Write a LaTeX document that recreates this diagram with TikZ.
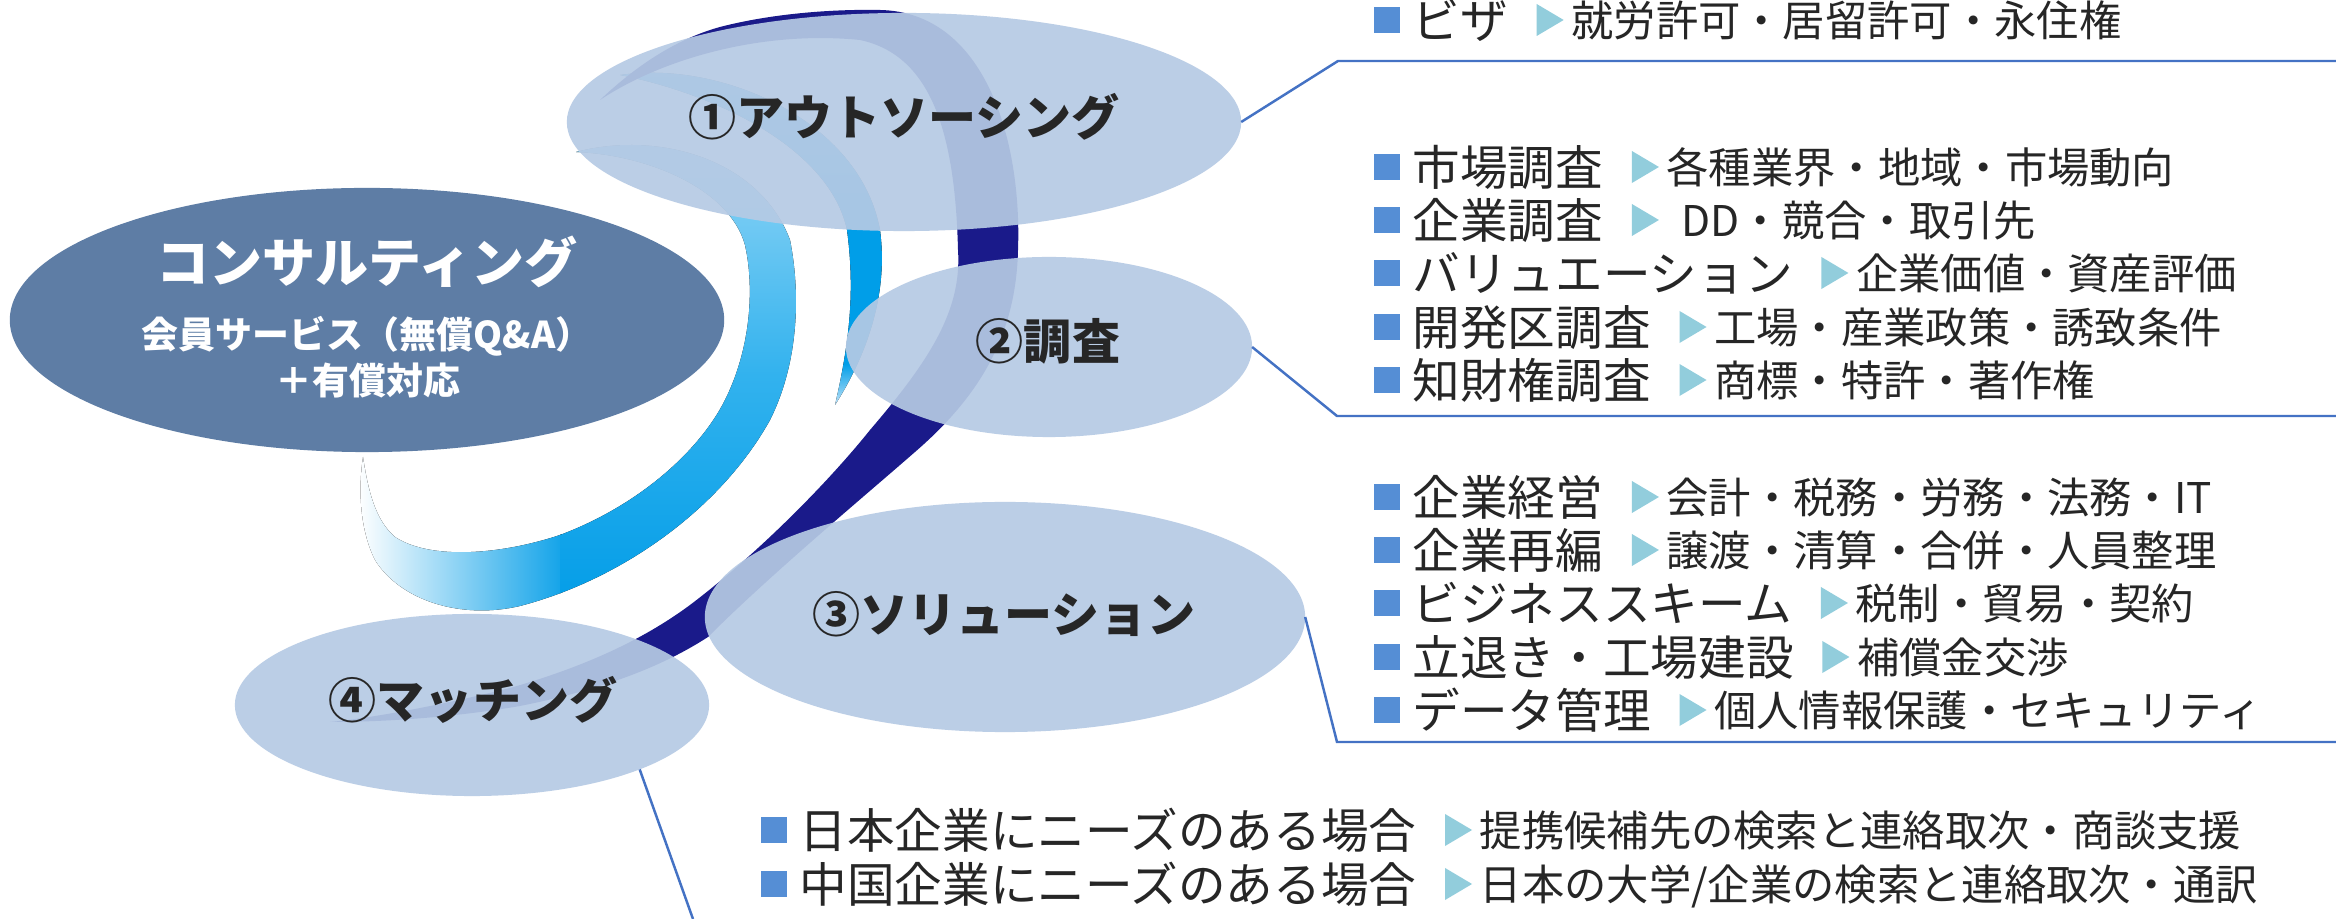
\documentclass[tikz,border=0pt]{standalone}
\usepackage{fontspec}
\usetikzlibrary{shapes.geometric}
\newfontfamily\jp{Noto Sans CJK JP}

\definecolor{navyband}{RGB}{26,26,138}
\definecolor{skydeep}{RGB}{0,156,231}
\definecolor{skymid}{RGB}{50,178,238}
\definecolor{skytop}{RGB}{150,215,246}
\definecolor{midtop}{RGB}{90,190,240}
\definecolor{midcore}{RGB}{0,158,232}
\definecolor{midend}{RGB}{190,226,248}
\definecolor{bubblefill}{RGB}{182,202,228}
\definecolor{consultfill}{RGB}{94,125,165}
\definecolor{ink}{RGB}{38,38,38}
\definecolor{bulletblue}{RGB}{85,142,213}
\definecolor{arrowcyan}{RGB}{146,205,220}
\definecolor{linkblue}{RGB}{68,114,196}

% azure band: bright in the upper part, pale at the lower tip
\pgfdeclareverticalshading{midshade}{100bp}{color(0bp)=(midend); color(25bp)=(midend);
  color(31bp)=(midcore); color(55bp)=(midcore); color(75bp)=(midtop); color(100bp)=(midtop)}

% outline of the wide light swoosh
\newcommand\skypath{(576,152) .. controls (660,130) and (760,160) .. (790,240)
  .. controls (800,290) and (800,360) .. (770,420)
  .. controls (720,510) and (620,580) .. (520,606)
  .. controls (460,620) and (400,600) .. (375,560)
  .. controls (360,530) and (358,490) .. (363,457)
  .. controls (368,490) and (375,520) .. (395,537)
  .. controls (430,560) and (500,555) .. (560,535)
  .. controls (640,505) and (700,450) .. (725,400)
  .. controls (750,350) and (755,290) .. (745,245)
  .. controls (730,190) and (650,155) .. (576,152) -- cycle}

% one list row: bullet, label, arrow head, detail
% #1 name, #2 label x, #3 row centre y, #4 label, #5 detail
\newcommand\rowitem[5]{%
  \fill[bulletblue] ({#2-38},{#3-13}) rectangle ({#2-12},{#3+13});
  \node[lbl] (#1) at (#2,#3) {#4};
  \fill[arrowcyan] ([xshift=0.28cm,yshift=0.16cm]#1.east) -- ++(0.27cm,-0.16cm)
     -- ++(-0.27cm,-0.16cm) -- cycle;
  \node[det] (#1d) at ([xshift=0.62cm]#1.east) {#5};
}

\begin{document}
\begin{tikzpicture}[x=0.01cm,y=-0.01cm,
  ell/.style={ellipse, draw=none, inner sep=0pt, outer sep=0pt},
  bubble/.style={ell, fill=bubblefill, fill opacity=0.92},
  ttl/.style={font=\jp\bfseries\fontsize{13.66pt}{16pt}\selectfont, text=ink,
    inner sep=0pt, text height=12.02pt, text depth=1.64pt},
  cttl/.style={font=\jp\bfseries\fontsize{15.08pt}{18pt}\selectfont, text=white,
    inner sep=0pt, text height=13.27pt, text depth=1.81pt},
  csub/.style={font=\jp\bfseries\fontsize{10.5pt}{12pt}\selectfont, text=white,
    inner sep=0pt, text height=9.24pt, text depth=1.26pt},
  lbl/.style={font=\jp\fontsize{13.54pt}{16pt}\selectfont, text=ink, anchor=west,
    inner sep=0pt, text height=11.92pt, text depth=1.62pt},
  det/.style={font=\jp\fontsize{12.03pt}{14pt}\selectfont, text=ink, anchor=west,
    inner sep=0pt, text height=10.59pt, text depth=1.44pt},
  conn/.style={draw=linkblue, line width=0.7pt}
]
\useasboundingbox (0,0) rectangle (2336,919);
\fill[white] (0,0) rectangle (2336,919);

% wide light swoosh: fading tail on the left, vertical gradient on the right
\begin{scope}
  \clip (300,0) rectangle (562,919);
  \fill[left color=white, right color=skydeep, middle color=skydeep] \skypath;
\end{scope}
\begin{scope}
  \clip (560,0) rectangle (900,919);
  \fill[top color=skytop, bottom color=skydeep, middle color=skymid] \skypath;
\end{scope}

% middle azure swoosh
\fill[shading=midshade]
  (620,75) .. controls (720,60) and (860,120) .. (880,230)
  .. controls (888,290) and (870,350) .. (835,405)
  .. controls (850,340) and (855,290) .. (847,230)
  .. controls (830,150) and (720,95) .. (620,75) -- cycle;

% outer navy swoosh
\fill[navyband]
  (600,100) .. controls (640,62) and (680,38) .. (720,27)
  .. controls (770,14) and (830,9) .. (880,10)
  .. controls (985,12) and (1022,140) .. (1018,250)
  .. controls (1016,340) and (975,400) .. (915,452)
  .. controls (860,500) and (770,575) .. (708,637)
  .. controls (660,668) and (600,690) .. (520,706)
  .. controls (450,718) and (380,722) .. (330,722)
  .. controls (380,717) and (450,703) .. (510,688)
  .. controls (580,668) and (640,642) .. (690,605)
  .. controls (760,552) and (830,480) .. (870,430)
  .. controls (930,360) and (962,310) .. (958,250)
  .. controls (955,130) and (930,55) .. (860,40)
  .. controls (760,30) and (660,60) .. (600,100) -- cycle;

% central consulting ellipse
\node[ell, fill=consultfill, minimum width=7.14cm, minimum height=2.64cm] (ec) at (367,320) {};
\node[cttl] (ct) at (367,262) {コンサルティング};
\node[csub] (cs1) at (367,334) {会員サービス（無償Q\&A）};
\node[csub] (cs2) at (368,380) {＋有償対応};

% service bubbles
\node[bubble, minimum width=6.74cm, minimum height=2.18cm] (e1) at (904,122) {};
\node[bubble, minimum width=4.06cm, minimum height=1.80cm] (e2) at (1049,347) {};
\node[bubble, minimum width=6.00cm, minimum height=2.30cm] (e3) at (1005,617) {};
\node[bubble, minimum width=4.74cm, minimum height=1.82cm] (e4) at (472,705) {};

\node[ttl] (t1) at (904,117) {①アウトソーシング};
\node[ttl] (t2) at (1048,341) {②調査};
\node[ttl] (t3) at (1004,614) {③ソリューション};
\node[ttl] (t4) at (473,700) {④マッチング};

% leader lines
\coordinate (k1) at (1338,61);  \coordinate (k1r) at (2336,61);
\coordinate (k2) at (1337,416); \coordinate (k2r) at (2336,416);
\coordinate (k3) at (1337,742); \coordinate (k3r) at (2336,742);
\coordinate (k4) at (693,919);
\draw[conn] (e1.east) -- (k1) -- (k1r);
\draw[conn] (e2.east) -- (k2) -- (k2r);
\draw[conn] (e3.east) -- (k3) -- (k3r);
\draw[conn] (e4.south east) -- (k4);

% outsourcing
\rowitem{a1}{1412}{20}{ビザ}{就労許可・居留許可・永住権}

% research
\rowitem{b1}{1412}{167}{市場調査}{各種業界・地域・市場動向}
\rowitem{b2}{1412}{220}{企業調査}{\hspace*{0.15cm}DD・競合・取引先}
\rowitem{b3}{1412}{273}{バリュエーション}{企業価値・資産評価}
\rowitem{b4}{1412}{327}{開発区調査}{工場・産業政策・誘致条件}
\rowitem{b5}{1412}{380}{知財権調査}{商標・特許・著作権}

% solutions
\rowitem{c1}{1412}{497}{企業経営}{会計・税務・労務・法務・IT}
\rowitem{c2}{1412}{550}{企業再編}{譲渡・清算・合併・人員整理}
\rowitem{c3}{1412}{603}{ビジネススキーム}{税制・貿易・契約}
\rowitem{c4}{1412}{657}{立退き・工場建設}{補償金交渉}
\rowitem{c5}{1412}{710}{データ管理}{個人情報保護・セキュリティ}

% matching
\rowitem{d1}{799}{830}{日本企業にニーズのある場合}{提携候補先の検索と連絡取次・商談支援}
\rowitem{d2}{799}{884}{中国企業にニーズのある場合}{日本の大学/企業の検索と連絡取次・通訳}
\end{tikzpicture}
\end{document}
